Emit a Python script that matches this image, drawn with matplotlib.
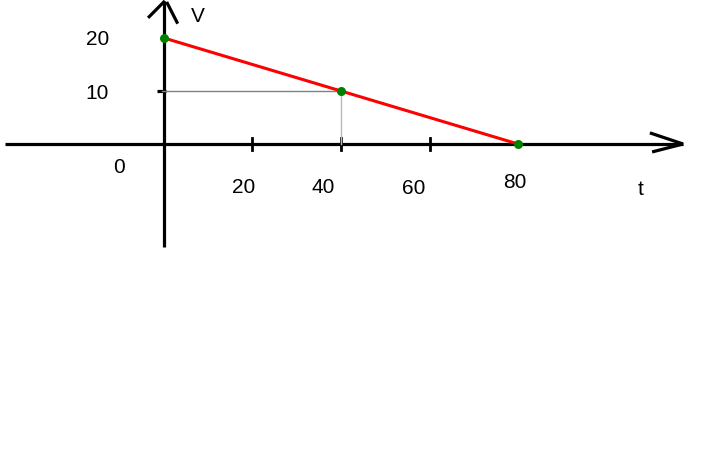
import matplotlib
matplotlib.use("Agg")
import matplotlib.pyplot as plt

# line V(t)
t_pts = [0, 40, 80]
v_pts = [20, 10, 0]

# axis ticks and labels
x_ticks = [20, 40, 60]
x_labels = ["20", "40", "60", "80"]
x_label_pos = [[18, -8.2], [36, -8.2], [56.5, -8.4], [79.3, -7.3]]
y_labels = ["20", "10"]
y_label_pos = [[-15.1, 19.8], [-15.1, 9.5]]

plt.rcParams['font.family'] = ['Liberation Sans', 'DejaVu Sans']

fig = plt.figure(figsize=(7.09, 4.72), dpi=100)
ax = fig.add_axes([0, 0, 1, 1])
ax.set_xlim(-37.06, 123.16)
ax.set_ylim(-61.89, 27.17)
ax.axis('off')

k = dict(color='black', lw=2.3, solid_capstyle='butt')
# axes with hand drawn arrows
ax.plot([-35.9, 117.3], [0, 0], **k)
ax.plot([109.8, 117.3], [2.1, 0], **k)
ax.plot([110.3, 117.3], [-1.5, 0], **k)
ax.plot([0, 0], [-19.4, 27.0], **k)
ax.plot([-3.6, 0.2], [23.8, 27.0], **k)
ax.plot([0.6, 3.1], [26.8, 22.7], **k)

# tick marks
for x in x_ticks:
    ax.plot([x, x], [-1.2, 1.2], color='black', lw=2)
ax.plot([-1.6, 0.4], [10, 10], **k)

# gray guide lines to the middle point
ax.plot([-0.5, t_pts[1]], [v_pts[1], v_pts[1]], color='gray', lw=1)
ax.plot([t_pts[1], t_pts[1]], [v_pts[1], 0], color='#bbbbbb', lw=1)

ax.plot(t_pts, v_pts, color='red', lw=2.2, zorder=3)
ax.scatter(t_pts, v_pts, color='green', s=30, zorder=4)

fs = 15
for lab, (x, y) in zip(x_labels, x_label_pos):
    ax.text(x, y, lab, fontsize=fs, ha='center', va='center')
for lab, (x, y) in zip(y_labels, y_label_pos):
    ax.text(x, y, lab, fontsize=fs, ha='center', va='center')
ax.text(-10.2, -4.4, "0", fontsize=fs, ha='center', va='center')
ax.text(107.8, -8.6, "t", fontsize=fs, ha='center', va='center')
ax.text(7.7, 24.0, "V", fontsize=fs, ha='center', va='center')

fig.savefig("out.png", dpi=100)
